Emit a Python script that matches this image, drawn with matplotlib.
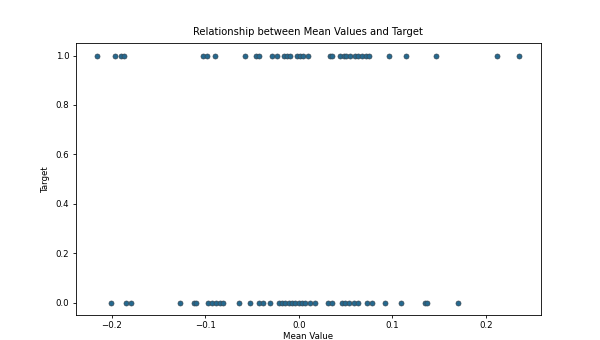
import matplotlib
matplotlib.use("Agg")
import matplotlib.pyplot as plt
import seaborn as sns

# mean value of each sample, split by target class
mean_target_1 = [
    -0.216, -0.197, -0.190, -0.187, -0.1025, -0.098, -0.090, -0.0575,
    -0.0455, -0.042, -0.0287, -0.0233, -0.0162, -0.0126, -0.009, -0.002,
    0.0016, 0.005, 0.0094, 0.033, 0.036, 0.0437, 0.048, 0.0508, 0.0551,
    0.0597, 0.0633, 0.0676, 0.0722, 0.0747, 0.096, 0.115, 0.147, 0.212, 0.236,
]
mean_target_0 = [
    -0.2005, -0.185, -0.179, -0.1275, -0.1118, -0.1096, -0.0975, -0.0928,
    -0.0886, -0.084, -0.081, -0.0644, -0.0519, -0.042, -0.0377, -0.0305,
    -0.0216, -0.018, -0.0144, -0.0109, -0.0073, -0.0037, -0.0002, 0.003,
    0.007, 0.0123, 0.0176, 0.031, 0.036, 0.046, 0.0497, 0.0533, 0.0586,
    0.0629, 0.0729, 0.0783, 0.0918, 0.1096, 0.135, 0.137, 0.170,
]

mean_values = mean_target_1 + mean_target_0
target = [1] * len(mean_target_1) + [0] * len(mean_target_0)

fig = plt.figure(figsize=(6, 3.4), dpi=100)
ax = fig.add_axes([0.126, 0.0735, 0.775, 0.7995])
sns.scatterplot(x=mean_values, y=target, ax=ax, s=13,
                color="#25698f", edgecolor="#3b4a55", linewidth=0.5)
ax.set_title("Relationship between Mean Values and Target", fontsize=7.2)
ax.set_xlabel("Mean Value", fontsize=6.2, labelpad=1)
ax.set_ylabel("Target", fontsize=6.2, labelpad=4)
ax.tick_params(labelsize=6.2, length=2.5, width=0.6, pad=2)
for spine in ax.spines.values():
    spine.set_linewidth(0.6)

fig.savefig("out.png", dpi=100)
